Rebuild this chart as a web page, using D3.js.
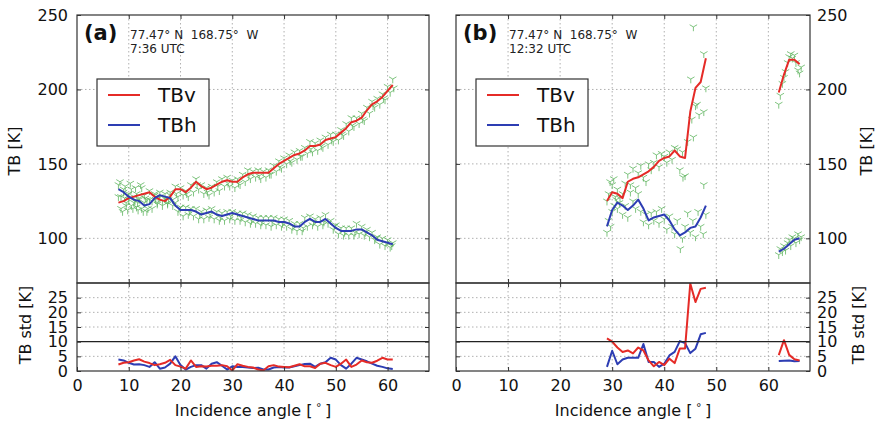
<!DOCTYPE html>
<html>
<head>
<meta charset="utf-8">
<script src="https://cdn.jsdelivr.net/npm/d3@7"></script>
<style>
  html, body { margin: 0; padding: 0; background: #fff; }
  svg { display: block; font-family: "DejaVu Sans", sans-serif; }
</style>
</head>
<body>
<svg id="chart" width="882" height="424"></svg>
<script>
// ---------------- DATA ----------------
const xTicks = [0, 10, 20, 30, 40, 50, 60];
const tbTicks = [100, 150, 200, 250];
const stdTicks = [0, 5, 10, 15, 20, 25];

// Panel (a) 7:36 UTC, mean TB per degree of incidence angle
const anglesA = [8,9,10,11,12,13,14,15,16,17,18,19,20,21,22,23,24,25,26,27,28,29,30,31,32,33,34,35,36,37,38,39,40,41,42,43,44,45,46,47,48,49,50,51,52,53,54,55,56,57,58,59,60,61];
const tbvA = [124,125,127,128,129,130,131,128,126,125,128,133,133,131,134,138,135,133,134,136,138,139,138,138,141,143,144,144,144,144,147,150,152,154,156,157,159,162,162,163,166,167,168,171,174,178,179,181,186,190,192,195,199,203];
const tbhA = [133,131,128,126,125,122,123,127,129,128,127,122,119,119,119,118,116,117,118,116,115,116,117,116,115,114,113,112,112,112,112,111,111,110,108,108,111,113,111,111,113,110,107,105,105,105,106,106,104,102,99,98,97,96];
const stdvA = [2.2,2.8,3.0,3.6,4.0,3.2,2.7,2.0,2.3,2.8,3.8,2.0,1.5,0.8,3.6,1.4,1.6,1.5,1.8,1.8,2.0,1.6,0.2,2.3,1.8,1.4,1.2,0.5,0.2,1.6,2.0,1.5,1.4,1.3,1.8,2.3,1.6,1.6,1.0,2.5,2.8,2.0,1.4,2.5,3.9,1.4,2.2,3.6,3.0,2.8,3.5,4.5,3.9,3.9];
const stdhA = [3.9,3.6,2.8,2.2,2.3,2.0,1.4,3.0,0.8,1.2,2.5,5.0,2.0,0.5,1.4,2.0,2.0,0.8,2.5,3.0,1.8,0.5,1.6,1.4,1.4,1.2,1.0,1.1,0.5,0.5,1.2,1.4,1.2,1.2,1.6,2.0,2.4,2.5,1.4,2.5,3.0,4.5,3.9,2.0,0.8,2.5,4.5,3.9,3.3,2.5,1.8,1.4,0.9,0.7];

// Panel (a) individual observations [angle, TB]
const obsA = [
 [8,128],[8.5,120],[9,131],[9.5,122],[10,126],[10.5,133],[11,124],[11.5,130],[12,127],[12.5,134],[13,129],[13.5,126],[14,132],[14.5,125],[15,130],[15.5,124],[16,128],[16.5,122],[17,127],[17.5,123],[18,131],[18.5,126],[19,135],[19.5,128],[20,134],[20.5,129],[21,132],[21.5,128],[22,136],[22.5,131],[23,140],[23.5,133],[24,136],[24.5,130],[25,134],[25.5,129],[26,135],[26.5,131],[27,138],[27.5,132],[28,140],[28.5,135],[29,141],[29.5,135],[30,139],[30.5,134],[31,140],[31.5,136],[32,143],[32.5,138],[33,146],[33.5,140],[34,145],[34.5,141],[35,146],[35.5,140],[36,145],[36.5,141],[37,146],[37.5,143],[38,149],[38.5,145],[39,152],[39.5,147],[40,154],[40.5,150],[41,156],[41.5,151],[42,158],[42.5,153],[43,159],[43.5,155],[44,161],[44.5,157],[45,165],[45.5,158],[46,164],[46.5,159],[47,166],[47.5,161],[48,168],[48.5,163],[49,170],[49.5,165],[50,170],[50.5,166],[51,173],[51.5,169],[52,177],[52.5,172],[53,181],[53.5,175],[54,181],[54.5,177],[55,184],[55.5,179],[56,188],[56.5,184],[57,192],[57.5,188],[58,194],[58.5,190],[59,197],[59.5,193],[60,202],[60.5,198],[61,207],
 [8,136],[8.5,128],[9,133],[9.5,124],[10,130],[10.5,122],[11,128],[11.5,121],[12,126],[12.5,120],[13,124],[13.5,118],[14,126],[14.5,120],[15,129],[15.5,123],[16,131],[16.5,125],[17,130],[17.5,124],[18,129],[18.5,122],[19,124],[19.5,118],[20,121],[20.5,115],[21,121],[21.5,116],[22,120],[22.5,115],[23,120],[23.5,113],[24,118],[24.5,113],[25,119],[25.5,114],[26,120],[26.5,113],[27,118],[27.5,112],[28,117],[28.5,112],[29,118],[29.5,113],[30,118],[30.5,112],[31,117],[31.5,112],[32,117],[32.5,111],[33,116],[33.5,110],[34,115],[34.5,110],[35,114],[35.5,109],[36,114],[36.5,109],[37,114],[37.5,108],[38,114],[38.5,109],[39,113],[39.5,108],[40,113],[40.5,108],[41,112],[41.5,106],[42,110],[42.5,105],[43,110],[43.5,105],[44,114],[44.5,108],[45,115],[45.5,109],[46,113],[46.5,108],[47,114],[47.5,109],[48,116],[48.5,110],[49,112],[49.5,106],[50,109],[50.5,103],[51,107],[51.5,102],[52,107],[52.5,102],[53,107],[53.5,102],[54,110],[54.5,103],[55,108],[55.5,102],[56,106],[56.5,101],[57,104],[57.5,99],[58,101],[58.5,96],[59,100],[59.5,95],[60,99],[60.5,94],[61,97],
 [8.3,138],[8.8,118],[9.3,135],[9.8,119],[10.3,137],[10.8,120],[11.3,134],[11.8,119],[12.3,136],[12.8,118],
 [9.2,127],[11.2,125],[13.2,127],[15.2,126],[17.2,126],[19.2,130],[21.2,130],[23.2,136],[25.2,131],[27.2,135],[29.2,137],[31.2,137],[33.2,142],[35.2,142],[37.2,143],[39.2,148],[41.2,152],[43.2,155],[45.2,160],[47.2,162],[49.2,166],[51.2,170],[53.2,176],[55.2,180],[57.2,189],[59.2,194],[61.2,201],
 [9.7,129],[11.7,124],[13.7,120],[15.7,127],[17.7,126],[19.7,120],[21.7,118],[23.7,116],[25.7,116],[27.7,114],[29.7,115],[31.7,114],[33.7,112],[35.7,111],[37.7,111],[39.7,110],[41.7,108],[43.7,107],[45.7,111],[47.7,111],[49.7,108],[51.7,104],[53.7,104],[55.7,104],[57.7,100],[59.7,97],[60.8,95]
];

// Panel (b) 12:32 UTC (null = no data)
const anglesB = [29,30,31,32,33,34,35,36,37,38,39,40,41,42,43,44,45,46,47,48,null,62,63,64,65,66];
const tbvB = [125,131,130,127,138,140,141,143,145,148,152,154,155,159,155,154,185,201,205,221,null,198,210,220,220,217];
const tbhB = [108,119,124,122,119,122,126,120,112,114,115,116,112,106,102,104,107,108,114,122,null,91,93,96,99,100];
const stdvB = [11.1,10,8,6.5,7,6,8,7,3.6,1.6,3.1,2,4.2,2.7,7.7,7.7,29.8,23.5,28,28.4,null,5.4,10.5,5.5,4,3.6];
const stdhB = [1.4,6.9,2.3,3.9,4.5,4.5,4.5,9.2,3.1,3.1,1.4,2.5,5.3,6.5,10.2,9.5,6.1,7.6,12.5,13,null,3.4,3.5,3.6,3.3,3.4];

const obsB = [
 [29,125],[29.3,130],[29.6,138],[30,136],[30.3,140],[30.6,128],[31,133],[31.4,124],[32,130],[32.5,137],[33,143],[33.5,136],[34,147],[34.5,134],[35,144],[35.5,149],[36,141],[36.5,138],[37,150],[37.5,146],[38,151],[38.5,156],[39,148],[39.5,157],[40,155],[40.5,151],[41,158],[41.5,153],[42,161],[42.5,160],[43,146],[43.5,158],[43.6,141],[44,142],[44.5,165],[45.1,207],[45.3,180],[45.6,242],[45.6,168],[46,189],[46.3,190],[46.7,183],[47.6,185],[47.6,224],[48,201],[47.6,136],
 [29,104],[29.3,112],[29.7,108],[30,118],[30.4,122],[30.8,126],[31,120],[31.5,127],[32,116],[32.5,122],[33,114],[33.5,131],[34,125],[34.5,120],[35,130],[35.5,118],[36,111],[36.5,116],[37,109],[37.5,117],[38,112],[38.5,118],[39,110],[39.5,120],[40,113],[40.5,106],[41,115],[41.5,108],[42,103],[42.5,112],[43.1,93],[43.5,100],[44,108],[44.5,117],[45,104],[45.5,112],[46,101],[46.5,118],[47,108],[47.5,103],[48,116],
 [62,190],[62.3,196],[62.7,204],[63,208],[63.3,212],[63.7,218],[64,222],[64.3,224],[64.6,221],[65,223],[65.3,218],[65.7,213],[66,211],[66.3,215],
 [62,89],[62.3,93],[62.7,91],[63,95],[63.3,92],[63.7,97],[64,99],[64.3,95],[64.6,101],[65,100],[65.3,97],[65.7,103],[66,99],[66.3,101]
];

const panelTags = ["(a)", "(b)"];
const coordText = "77.47° N  168.75°  W";
const timeText = ["7:36 UTC", "12:32 UTC"];
const seriesNames = ["TBv", "TBh"];
const seriesColors = ["#e52b27", "#2d3db3"];

// ---------------- DRAW ----------------
const svg = d3.select("#chart");
const topY0 = 15, topY1 = 283, botY0 = 283, botY1 = 371;
const yTop = d3.scaleLinear().domain([70, 250]).range([topY1, topY0]);
const yBot = d3.scaleLinear().domain([0, 30]).range([botY1, botY0]);

const panels = [
  { id: "a", x0: 77, x1: 429, side: "left", angles: anglesA, tbv: tbvA, tbh: tbhA, sv: stdvA, sh: stdhA, obs: obsA, time: timeText[0], tag: panelTags[0] },
  { id: "b", x0: 456, x1: 810, side: "right", angles: anglesB, tbv: tbvB, tbh: tbhB, sv: stdvB, sh: stdhB, obs: obsB, time: timeText[1], tag: panelTags[1] }
];

const triDown = (s) => `M0,0L0,${s}M0,0L${-s*0.866},${-s*0.5}M0,0L${s*0.866},${-s*0.5}`;

panels.forEach(p => {
  const x = d3.scaleLinear().domain([0, 68]).range([p.x0, p.x1]);
  const g = svg.append("g");
  const defs = svg.append("defs");
  defs.append("clipPath").attr("id", "ct" + p.id).append("rect")
    .attr("x", p.x0).attr("y", topY0).attr("width", p.x1 - p.x0).attr("height", topY1 - topY0);
  defs.append("clipPath").attr("id", "cb" + p.id).append("rect")
    .attr("x", p.x0).attr("y", botY0).attr("width", p.x1 - p.x0).attr("height", botY1 - botY0);

  // grid
  const grid = g.append("g").attr("stroke", "#b0b0b0").attr("stroke-width", 1).attr("stroke-dasharray", "1.5,2.5");
  xTicks.filter(t => t > 0).forEach(t => {
    grid.append("line").attr("x1", x(t)).attr("x2", x(t)).attr("y1", topY0).attr("y2", botY1);
  });
  tbTicks.filter(t => t < 250).forEach(t => {
    grid.append("line").attr("x1", p.x0).attr("x2", p.x1).attr("y1", yTop(t)).attr("y2", yTop(t));
  });
  stdTicks.filter(t => t > 0 && t !== 10).forEach(t => {
    grid.append("line").attr("x1", p.x0).attr("x2", p.x1).attr("y1", yBot(t)).attr("y2", yBot(t));
  });

  // observations (green tri-down markers)
  g.append("g").attr("clip-path", `url(#ct${p.id})`)
    .selectAll("path").data(p.obs).join("path")
    .attr("transform", d => `translate(${x(d[0])},${yTop(d[1])})`)
    .attr("d", triDown(4.3))
    .attr("fill", "none").attr("stroke", "#55b055").attr("stroke-width", 1).attr("stroke-opacity", 0.75);

  // mean lines
  const lineTop = d3.line().defined(d => d[0] != null && d[1] != null).x(d => x(d[0])).y(d => yTop(d[1]));
  const lineBot = d3.line().defined(d => d[0] != null && d[1] != null).x(d => x(d[0])).y(d => yBot(d[1]));
  const topG = g.append("g").attr("clip-path", `url(#ct${p.id})`);
  [p.tbv, p.tbh].forEach((vals, i) => {
    topG.append("path").datum(p.angles.map((a, k) => [a, vals[k]]))
      .attr("d", lineTop).attr("fill", "none").attr("stroke", seriesColors[i]).attr("stroke-width", 2)
      .attr("stroke-linejoin", "round");
  });
  const botG = g.append("g").attr("clip-path", `url(#cb${p.id})`);
  [p.sh, p.sv].forEach((vals, j) => {
    const i = j === 0 ? 1 : 0;
    botG.append("path").datum(p.angles.map((a, k) => [a, vals[k]]))
      .attr("d", lineBot).attr("fill", "none").attr("stroke", seriesColors[i]).attr("stroke-width", 2)
      .attr("stroke-linejoin", "round");
  });

  // threshold line at 10 K
  g.append("line").attr("x1", p.x0).attr("x2", p.x1).attr("y1", yBot(10)).attr("y2", yBot(10))
    .attr("stroke", "#222").attr("stroke-width", 1.3);

  // frames
  g.append("rect").attr("x", p.x0).attr("y", topY0).attr("width", p.x1 - p.x0).attr("height", topY1 - topY0)
    .attr("fill", "none").attr("stroke", "#333").attr("stroke-width", 1.2);
  g.append("rect").attr("x", p.x0).attr("y", botY0).attr("width", p.x1 - p.x0).attr("height", botY1 - botY0)
    .attr("fill", "none").attr("stroke", "#333").attr("stroke-width", 1.2);

  // axes (inward ticks)
  const styleAxis = sel => {
    sel.select(".domain").remove();
    sel.selectAll(".tick line").attr("stroke", "#333");
    sel.selectAll(".tick text").attr("fill", "#111").style("font-family", "DejaVu Sans").style("font-size", "16px");
  };
  const noLabel = () => "";
  svg.append("g").attr("transform", `translate(0,${botY1})`)
    .call(d3.axisBottom(x).tickValues(xTicks).tickSize(-4).tickPadding(9)).call(styleAxis);
  svg.append("g").attr("transform", `translate(0,${botY0})`)
    .call(d3.axisTop(x).tickValues(xTicks.filter(t => t > 0)).tickSize(-4).tickFormat(noLabel)).call(styleAxis);
  svg.append("g").attr("transform", `translate(0,${topY1})`)
    .call(d3.axisBottom(x).tickValues(xTicks.filter(t => t > 0)).tickSize(-4).tickFormat(noLabel)).call(styleAxis);
  svg.append("g").attr("transform", `translate(0,${topY0})`)
    .call(d3.axisTop(x).tickValues(xTicks.filter(t => t > 0)).tickSize(-4).tickFormat(noLabel)).call(styleAxis);

  const labSide = p.side;
  const labX = labSide === "left" ? p.x0 : p.x1;
  const othX = labSide === "left" ? p.x1 : p.x0;
  const axL = labSide === "left" ? d3.axisLeft : d3.axisRight;
  const axO = labSide === "left" ? d3.axisRight : d3.axisLeft;
  svg.append("g").attr("transform", `translate(${labX},0)`)
    .call(axL(yTop).tickValues(tbTicks).tickSize(-4).tickPadding(labSide === "left" ? 9 : 7)).call(styleAxis);
  svg.append("g").attr("transform", `translate(${othX},0)`)
    .call(axO(yTop).tickValues(tbTicks).tickSize(-4).tickFormat(noLabel)).call(styleAxis);
  svg.append("g").attr("transform", `translate(${labX},0)`)
    .call(axL(yBot).tickValues(stdTicks).tickSize(-4).tickPadding(labSide === "left" ? 9 : 7)).call(styleAxis);
  svg.append("g").attr("transform", `translate(${othX},0)`)
    .call(axO(yBot).tickValues(stdTicks).tickSize(-4).tickFormat(noLabel)).call(styleAxis);

  // axis titles
  const xMid = (p.x0 + p.x1) / 2;
  const xt = svg.append("text").attr("x", xMid).attr("y", 416).attr("text-anchor", "middle")
    .style("font-size", "16px").attr("fill", "#111");
  xt.append("tspan").text("Incidence angle [");
  xt.append("tspan").attr("dy", -5).style("font-size", "11px").text(" ° ");
  xt.append("tspan").attr("dy", 5).text("]");

  const tbX = labSide === "left" ? 15 : 867;
  const stdX = labSide === "left" ? 25 : 858;
  svg.append("text").attr("transform", `translate(${tbX + 5},${(topY0 + topY1) / 2 + 2}) rotate(-90)`)
    .attr("text-anchor", "middle").style("font-size", "16px").attr("fill", "#111").text("TB [K]");
  svg.append("text").attr("transform", `translate(${stdX + 6},${(botY0 + botY1) / 2 - 2}) rotate(-90)`)
    .attr("text-anchor", "middle").style("font-size", "16px").attr("fill", "#111").text("TB std [K]");

  // panel tags & annotations
  svg.append("text").attr("x", p.x0 + 7).attr("y", 40).style("font-size", "21px").style("font-weight", "bold")
    .attr("fill", "#111").text(p.tag);
  svg.append("text").attr("x", p.x0 + 53).attr("y", 39).style("font-size", "12px").style("white-space", "pre")
    .attr("fill", "#222").text(coordText);
  svg.append("text").attr("x", p.x0 + 53).attr("y", 53).style("font-size", "12px").attr("fill", "#222").text(p.time);

  // legend
  const lg = svg.append("g").attr("transform", `translate(${p.x0 + 20},79)`);
  lg.append("rect").attr("width", 112).attr("height", 67).attr("fill", "#fff").attr("stroke", "#333").attr("stroke-width", 1.2);
  seriesNames.forEach((n, i) => {
    const yy = 16 + i * 30;
    lg.append("line").attr("x1", 11).attr("x2", 43).attr("y1", yy).attr("y2", yy)
      .attr("stroke", seriesColors[i]).attr("stroke-width", 2);
    lg.append("text").attr("x", 61).attr("y", yy + 7).style("font-size", "20px").attr("fill", "#111").text(n);
  });
});
</script>
</body>
</html>
